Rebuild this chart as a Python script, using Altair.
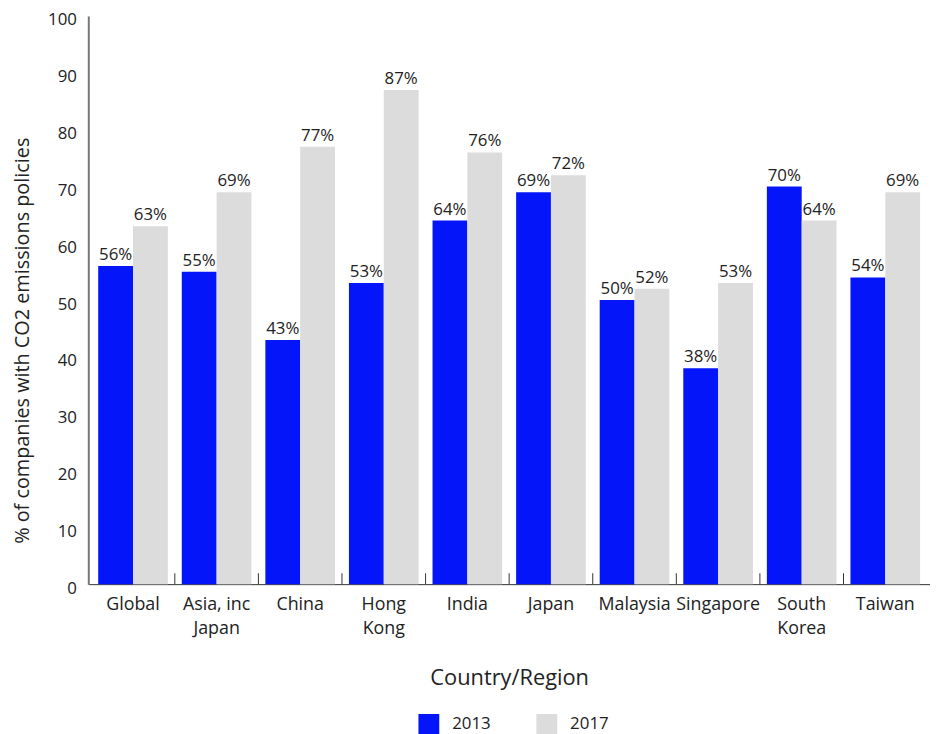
import altair as alt
import pandas as pd

categories = ["Global", "Asia, inc|Japan", "China", "Hong|Kong", "India", "Japan",
              "Malaysia", "Singapore", "South|Korea", "Taiwan"]
values_2013 = [56, 55, 43, 53, 64, 69, 50, 38, 70, 54]
values_2017 = [63, 69, 77, 87, 76, 72, 52, 53, 64, 69]
years = ["2013", "2017"]
colors = ["#0515FA", "#DCDCDC"]

rows = []
for c, a, b in zip(categories, values_2013, values_2017):
    rows.append({"Category": c, "Year": "2013", "Value": a})
    rows.append({"Category": c, "Year": "2017", "Value": b})
df = pd.DataFrame(rows)
df["Label"] = df["Value"].astype(str) + "%"

tick_df = pd.DataFrame({"Category": categories[1:]})

FONT = "Open Sans"
TXT = "#222222"
PLOT_H = 573

x_enc = alt.X(
    "Category:N",
    sort=categories,
    scale=alt.Scale(paddingInner=0, paddingOuter=0.035),
    axis=alt.Axis(
        title="Country/Region",
        labelExpr="split(datum.label, '|')",
        labelAngle=0,
        ticks=False,
        domainColor="#333333",
        domainWidth=1,
        labelFontSize=18,
        labelColor=TXT,
        labelPadding=12,
        labelLineHeight=24,
        labelLimit=200,
        titleFontSize=22,
        titleFontWeight="normal",
        titleColor=TXT,
        titleY=94,
        titleBaseline="middle",
    ),
)

y_enc = alt.Y(
    "Value:Q",
    scale=alt.Scale(domain=[0, 100]),
    axis=alt.Axis(
        title="% of companies with CO2 emissions policies",
        values=list(range(0, 101, 10)),
        ticks=False,
        grid=False,
        domainColor="#777777",
        domainWidth=2,
        labelFontSize=17,
        labelColor=TXT,
        labelPadding=12,
        labelOffset=4,
        titleFontSize=20,
        titleFontWeight="normal",
        titleColor=TXT,
        titleX=-66,
        titleY=327,
        titleBaseline="middle",
        titleAlign="center",
        titleAngle=270,
    ),
)

xoff = alt.XOffset("Year:N", scale=alt.Scale(paddingOuter=0.2, paddingInner=0))

bars = alt.Chart(df).mark_bar().encode(
    x=x_enc,
    xOffset=xoff,
    y=y_enc,
    color=alt.Color(
        "Year:N",
        scale=alt.Scale(domain=years, range=colors),
        legend=alt.Legend(
            title=None,
            orient="none",
            legendX=333,
            legendY=704,
            direction="horizontal",
            symbolType="square",
            symbolSize=441,
            symbolStrokeWidth=0,
            labelFontSize=17,
            labelColor=TXT,
            labelOffset=13,
            columnPadding=46,
            padding=0,
        ),
    ),
)

texts = alt.Chart(df).mark_text(baseline="bottom", dy=-2, fontSize=17, color=TXT).encode(
    x=alt.X("Category:N", sort=categories),
    xOffset=xoff,
    y=alt.Y("Value:Q"),
    text="Label:N",
)

ticks = alt.Chart(tick_df).mark_rule(color="#333333", strokeWidth=1).encode(
    x=alt.X("Category:N", sort=categories, bandPosition=0),
    y=alt.value(PLOT_H - 11),
    y2=alt.value(PLOT_H),
)

chart = (
    alt.layer(bars, texts, ticks)
    .properties(
        width=849,
        height=PLOT_H,
        autosize=alt.AutoSizeParams(type="none"),
        padding={"left": 81, "top": 5, "right": 0, "bottom": 148},
    )
    .configure(font=FONT)
    .configure_view(stroke=None)
)

chart.save("out.html", embed_options={"renderer": "svg", "actions": False})
